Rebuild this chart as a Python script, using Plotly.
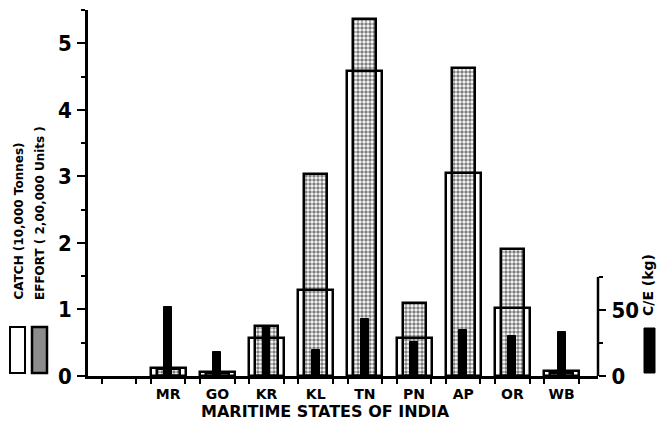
import plotly.graph_objects as go

states = ["MR", "GO", "KR", "KL", "TN", "PN", "AP", "OR", "WB"]
catch = [0.12, 0.06, 0.57, 1.29, 4.59, 0.57, 3.05, 1.02, 0.08]
effort = [0.10, 0.04, 0.75, 3.04, 5.37, 1.10, 4.63, 1.91, 0.05]
ce = [52, 18, 37, 20, 43, 26, 35, 30, 33]

xpos = list(range(1, len(states) + 1))
edge_half = 0.35
edges = []
for i in range(0, len(states) + 1):
    edges += [i - edge_half, i + edge_half]

W, H = 657, 428
L, R, T, B = 88, 598, 10, 376
pw, ph = R - L, B - T

def px(x):
    return (x - L) / pw

def py(y):
    return (B - y) / ph

bold = "DejaVu Sans"
cond = "DejaVu Sans Condensed"

fig = go.Figure()
fig.add_trace(go.Bar(
    x=xpos, y=effort, width=0.47, name="EFFORT",
    marker=dict(color="white",
                line=dict(color="black", width=2.5),
                pattern=dict(shape=".", fgcolor="black", bgcolor="white",
                             size=4, solidity=0.6)),
    yaxis="y", showlegend=False))
fig.add_trace(go.Bar(
    x=xpos, y=catch, width=0.71, name="CATCH",
    marker=dict(color="rgba(0,0,0,0)", line=dict(color="black", width=2.5)),
    yaxis="y", showlegend=False))
fig.add_trace(go.Bar(
    x=xpos, y=ce, width=0.16, name="C/E",
    marker=dict(color="black", line=dict(color="black", width=1)),
    yaxis="y2", showlegend=False))

fig.update_layout(
    width=W, height=H, autosize=False,
    margin=dict(l=L, r=W - R, t=T, b=H - B, pad=0),
    paper_bgcolor="white", plot_bgcolor="white",
    barmode="overlay", bargap=0,
    xaxis=dict(range=[-0.63, 9.74], tickmode="array", tickvals=xpos,
               ticktext=states, ticks="", ticklen=0, showgrid=False,
               zeroline=False, showline=True, linecolor="black", linewidth=2.5,
               ticklabelstandoff=3,
               tickfont=dict(family=bold, size=14, color="black", weight="bold"),
               minor=dict(tickmode="array", tickvals=edges, ticks="outside",
                          ticklen=5, tickwidth=1.5, tickcolor="black", showgrid=False)),
    yaxis=dict(range=[0, 5.5], tickmode="array", tickvals=[0, 1, 2, 3, 4, 5],
               ticks="outside", ticklen=8, tickwidth=2, tickcolor="black",
               showgrid=False, zeroline=False, showline=True, linecolor="black",
               linewidth=2.5, ticklabelstandoff=1,
               tickfont=dict(family=cond, size=22, color="black", weight="bold"),
               minor=dict(dtick=0.5, ticks="outside", ticklen=4, tickwidth=1.5,
                          tickcolor="black", showgrid=False)),
    yaxis2=dict(range=[0, 277], overlaying="y", side="right", anchor="x",
                tickmode="array", tickvals=[0, 50], ticks="outside", ticklen=7,
                tickwidth=2, tickcolor="black", showgrid=False, zeroline=False,
                showline=False, ticklabelstandoff=1,
                tickfont=dict(family=cond, size=22, color="black", weight="bold"),
                minor=dict(tickmode="array", tickvals=[25, 75], ticks="outside",
                           ticklen=4, tickwidth=1.5, tickcolor="black")),
)

# partial right axis line
fig.add_shape(type="line", xref="paper", yref="y2", x0=1, x1=1, y0=0, y1=75,
              line=dict(color="black", width=2.5))

# left legend swatches
fig.add_shape(type="rect", xref="paper", yref="paper",
              x0=px(10), x1=px(25), y0=py(373), y1=py(327),
              line=dict(color="black", width=2), fillcolor="white")
fig.add_shape(type="rect", xref="paper", yref="paper",
              x0=px(32), x1=px(47), y0=py(373), y1=py(327),
              line=dict(color="black", width=2.5), fillcolor="#8c8c8c")
# right legend swatch
fig.add_shape(type="rect", xref="paper", yref="paper",
              x0=px(644), x1=px(655), y0=py(373), y1=py(328),
              line=dict(color="black", width=1), fillcolor="black")

fig.add_annotation(text="CATCH (10,000 Tonnes)", xref="paper", yref="paper",
                   x=px(18), y=py(302), xanchor="center", yanchor="bottom",
                   textangle=-90, showarrow=False,
                   font=dict(family=bold, size=12, color="black", weight="bold"))
fig.add_annotation(text="EFFORT ( 2,00,000 Units )", xref="paper", yref="paper",
                   x=px(40), y=py(302), xanchor="center", yanchor="bottom",
                   textangle=-90, showarrow=False,
                   font=dict(family=bold, size=12, color="black", weight="bold"))
fig.add_annotation(text="C/E (kg)", xref="paper", yref="paper",
                   x=px(648), y=py(318), xanchor="center", yanchor="bottom",
                   textangle=-90, showarrow=False,
                   font=dict(family=bold, size=14, color="black", weight="bold"))
fig.add_annotation(text="MARITIME STATES OF INDIA", xref="paper", yref="paper",
                   x=px(325), y=py(411), xanchor="center", yanchor="middle",
                   showarrow=False,
                   font=dict(family=bold, size=16, color="black", weight="bold"))

fig.write_html("out.html", config={"displayModeBar": False},
               post_script="document.body.style.margin='0';")
